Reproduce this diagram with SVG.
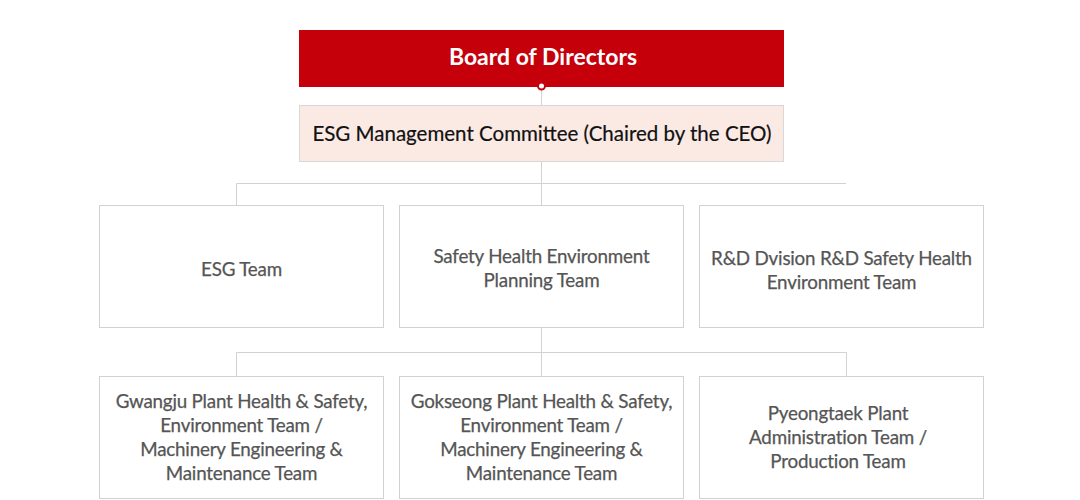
<svg xmlns="http://www.w3.org/2000/svg" width="1080" height="500" viewBox="0 0 1080 500">
<style>
.box{fill:#fff;stroke:#d2d2d2;stroke-width:1}
.t{font-family:Lato,"Noto Sans",sans-serif;font-size:18.8px;fill:#555;text-anchor:middle;stroke:#555;stroke-width:0.25;letter-spacing:-0.2px}
.ln{stroke:#d2d2d2;stroke-width:1;fill:none}
</style>
<rect width="1080" height="500" fill="#fff"/>
<g id="connectors">
<path class="ln" d="M541.5 90V105M541.5 161V205M236.5 205V183.5H846M541.5 327V376M236.5 376V352.5H846.5V376"/>
</g>
<g id="board">
<rect x="299" y="30" width="485" height="57" fill="#c6000b"/>
<text x="543" y="65" font-family="Lato,'Noto Sans',sans-serif" font-size="23" font-weight="bold" fill="#fff" text-anchor="middle">Board of Directors</text>
<circle cx="541.5" cy="86" r="3.5" fill="#fff" stroke="#c6000b" stroke-width="2"/>
</g>
<g id="committee">
<rect x="299.5" y="105.5" width="484" height="56" fill="#fbeae4" stroke="#d8d8d8"/>
<text x="542" y="141" font-family="Lato,'Noto Sans',sans-serif" font-size="20.5" fill="#111" stroke="#111" stroke-width="0.2" text-anchor="middle">ESG Management Committee (Chaired by the CEO)</text>
</g>
<g id="esg-team">
<rect class="box" x="99.5" y="205.5" width="284" height="122"/>
<text class="t" x="241.5" y="276">ESG Team</text>
</g>
<g id="she-planning">
<rect class="box" x="399.5" y="205.5" width="284" height="122"/>
<text class="t" x="541.5" y="263">Safety Health Environment</text>
<text class="t" x="541.5" y="287">Planning Team</text>
</g>
<g id="rd-she">
<rect class="box" x="699.5" y="205.5" width="284" height="122"/>
<text class="t" x="841.5" y="265">R&amp;D Dvision R&amp;D Safety Health</text>
<text class="t" x="841.5" y="289">Environment Team</text>
</g>
<g id="gwangju">
<rect class="box" x="99.5" y="376.5" width="284" height="122"/>
<text class="t" x="241.5" y="408">Gwangju Plant Health &amp; Safety,</text>
<text class="t" x="241.5" y="432">Environment Team /</text>
<text class="t" x="241.5" y="456">Machinery Engineering &amp;</text>
<text class="t" x="241.5" y="480">Maintenance Team</text>
</g>
<g id="gokseong">
<rect class="box" x="399.5" y="376.5" width="284" height="122"/>
<text class="t" x="541.5" y="408">Gokseong Plant Health &amp; Safety,</text>
<text class="t" x="541.5" y="432">Environment Team /</text>
<text class="t" x="541.5" y="456">Machinery Engineering &amp;</text>
<text class="t" x="541.5" y="480">Maintenance Team</text>
</g>
<g id="pyeongtaek">
<rect class="box" x="699.5" y="376.5" width="284" height="122"/>
<text class="t" x="838" y="420">Pyeongtaek Plant</text>
<text class="t" x="838" y="444">Administration Team /</text>
<text class="t" x="838" y="468">Production Team</text>
</g>
</svg>
